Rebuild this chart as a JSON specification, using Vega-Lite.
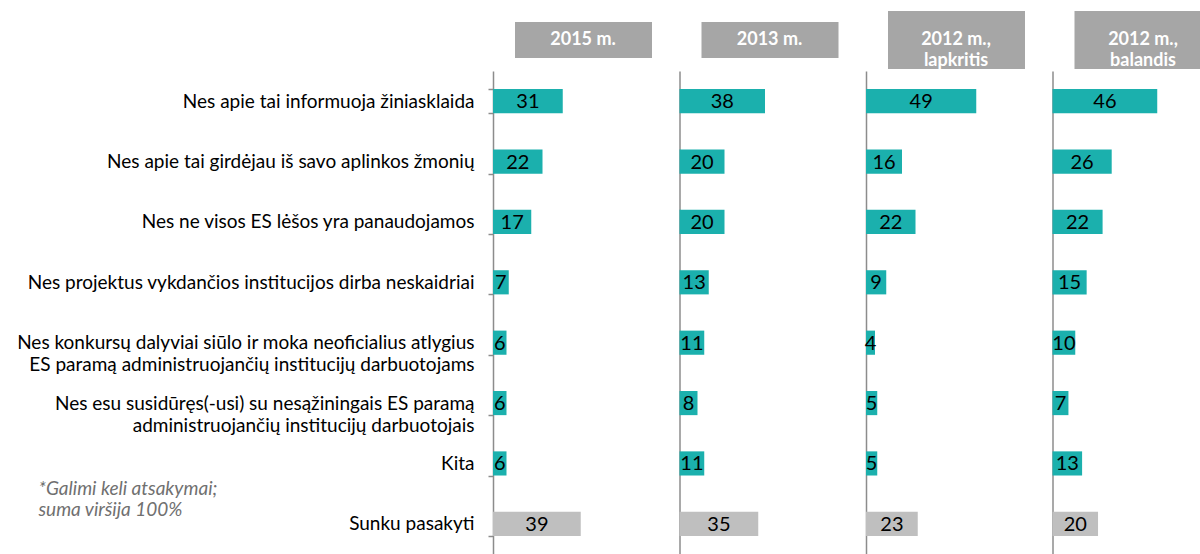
{
  "$schema": "https://vega.github.io/schema/vega-lite/v6.json",
  "padding": {"left": 16, "top": 11, "right": 0, "bottom": 0},
  "background": "white",
  "config": {"font": "Lato", "view": {"stroke": null}},
  "datasets": {
    "survey": [
      {"panel": "2015 m.", "item": "Nes apie tai informuoja žiniasklaida", "value": 31},
      {"panel": "2015 m.", "item": "Nes apie tai girdėjau iš savo aplinkos žmonių", "value": 22},
      {"panel": "2015 m.", "item": "Nes ne visos ES lėšos yra panaudojamos", "value": 17},
      {"panel": "2015 m.", "item": "Nes projektus vykdančios institucijos dirba neskaidriai", "value": 7},
      {"panel": "2015 m.", "item": "Nes konkursų dalyviai siūlo ir moka neoficialius atlygius\nES paramą administruojančių institucijų darbuotojams", "value": 6},
      {"panel": "2015 m.", "item": "Nes esu susidūręs(-usi) su nesąžiningais ES paramą\nadministruojančių institucijų darbuotojais", "value": 6},
      {"panel": "2015 m.", "item": "Kita", "value": 6},
      {"panel": "2015 m.", "item": "Sunku pasakyti", "value": 39},
      {"panel": "2013 m.", "item": "Nes apie tai informuoja žiniasklaida", "value": 38},
      {"panel": "2013 m.", "item": "Nes apie tai girdėjau iš savo aplinkos žmonių", "value": 20},
      {"panel": "2013 m.", "item": "Nes ne visos ES lėšos yra panaudojamos", "value": 20},
      {"panel": "2013 m.", "item": "Nes projektus vykdančios institucijos dirba neskaidriai", "value": 13},
      {"panel": "2013 m.", "item": "Nes konkursų dalyviai siūlo ir moka neoficialius atlygius\nES paramą administruojančių institucijų darbuotojams", "value": 11},
      {"panel": "2013 m.", "item": "Nes esu susidūręs(-usi) su nesąžiningais ES paramą\nadministruojančių institucijų darbuotojais", "value": 8},
      {"panel": "2013 m.", "item": "Kita", "value": 11},
      {"panel": "2013 m.", "item": "Sunku pasakyti", "value": 35},
      {"panel": "2012 m., lapkritis", "item": "Nes apie tai informuoja žiniasklaida", "value": 49},
      {"panel": "2012 m., lapkritis", "item": "Nes apie tai girdėjau iš savo aplinkos žmonių", "value": 16},
      {"panel": "2012 m., lapkritis", "item": "Nes ne visos ES lėšos yra panaudojamos", "value": 22},
      {"panel": "2012 m., lapkritis", "item": "Nes projektus vykdančios institucijos dirba neskaidriai", "value": 9},
      {"panel": "2012 m., lapkritis", "item": "Nes konkursų dalyviai siūlo ir moka neoficialius atlygius\nES paramą administruojančių institucijų darbuotojams", "value": 4},
      {"panel": "2012 m., lapkritis", "item": "Nes esu susidūręs(-usi) su nesąžiningais ES paramą\nadministruojančių institucijų darbuotojais", "value": 5},
      {"panel": "2012 m., lapkritis", "item": "Kita", "value": 5},
      {"panel": "2012 m., lapkritis", "item": "Sunku pasakyti", "value": 23},
      {"panel": "2012 m., balandis", "item": "Nes apie tai informuoja žiniasklaida", "value": 46},
      {"panel": "2012 m., balandis", "item": "Nes apie tai girdėjau iš savo aplinkos žmonių", "value": 26},
      {"panel": "2012 m., balandis", "item": "Nes ne visos ES lėšos yra panaudojamos", "value": 22},
      {"panel": "2012 m., balandis", "item": "Nes projektus vykdančios institucijos dirba neskaidriai", "value": 15},
      {"panel": "2012 m., balandis", "item": "Nes konkursų dalyviai siūlo ir moka neoficialius atlygius\nES paramą administruojančių institucijų darbuotojams", "value": 10},
      {"panel": "2012 m., balandis", "item": "Nes esu susidūręs(-usi) su nesąžiningais ES paramą\nadministruojančių institucijų darbuotojais", "value": 7},
      {"panel": "2012 m., balandis", "item": "Kita", "value": 13},
      {"panel": "2012 m., balandis", "item": "Sunku pasakyti", "value": 20}
    ]
  },
  "columns": 4,
  "spacing": {"row": 2, "column": 6.5},
  "bounds": "flush",
  "center": true,
  "concat": [
    {
      "width": 180, "height": 36,
      "data": {"values": [{"header": "2015 m."}]},
      "layer": [
        {"mark": {"type": "rect", "color": "#A6A6A6", "xOffset": 22, "x2Offset": -21}, "encoding": {"x": {"value": 0}, "x2": {"value": "width"}}},
        {"mark": {"type": "text", "color": "white", "fontWeight": "bold", "fontSize": 18, "lineBreak": "\n", "lineHeight": 21}, "encoding": {"text": {"field": "header"}}}
      ]
    },
    {
      "width": 180, "height": 36,
      "data": {"values": [{"header": "2013 m."}]},
      "layer": [
        {"mark": {"type": "rect", "color": "#A6A6A6", "xOffset": 22, "x2Offset": -21}, "encoding": {"x": {"value": 0}, "x2": {"value": "width"}}},
        {"mark": {"type": "text", "color": "white", "fontWeight": "bold", "fontSize": 18, "lineBreak": "\n", "lineHeight": 21}, "encoding": {"text": {"field": "header"}}}
      ]
    },
    {
      "width": 180, "height": 58,
      "data": {"values": [{"header": "2012 m.,\nlapkritis"}]},
      "layer": [
        {"mark": {"type": "rect", "color": "#A6A6A6", "xOffset": 22, "x2Offset": -21}, "encoding": {"x": {"value": 0}, "x2": {"value": "width"}}},
        {"mark": {"type": "text", "color": "white", "fontWeight": "bold", "fontSize": 18, "lineBreak": "\n", "lineHeight": 21}, "encoding": {"text": {"field": "header"}}}
      ]
    },
    {
      "width": 148, "height": 58,
      "data": {"values": [{"header": "2012 m.,\nbalandis"}]},
      "layer": [
        {"mark": {"type": "rect", "color": "#A6A6A6", "xOffset": 22, "x2Offset": 0}, "encoding": {"x": {"value": 0}, "x2": {"value": "width"}}},
        {"mark": {"type": "text", "color": "white", "fontWeight": "bold", "fontSize": 18, "lineBreak": "\n", "lineHeight": 21, "xOffset": 16.5}, "encoding": {"text": {"field": "header"}}}
      ]
    },
    {
      "width": 180, "height": 483,
      "data": {"name": "survey"},
      "transform": [{"filter": "datum.panel === '2015 m.'"}],
      "encoding": {
        "y": {
          "field": "item", "type": "nominal", "sort": null,
          "scale": {"paddingInner": 0.6, "paddingOuter": 0.3},
          "axis": {
            "title": ["*Galimi keli atsakymai;", "suma viršija 100%"],
            "titleAngle": 0, "titleX": -455, "titleY": 423, "titleAlign": "left", "titleBaseline": "alphabetic",
            "titleFontStyle": "italic", "titleFontWeight": "normal", "titleFontSize": 19, "titleColor": "#707070", "titleLineHeight": 21,
            "labelFontSize": 19, "labelColor": "#000000", "labelPadding": 14, "labelLimit": 700, "labelLineHeight": 22,
            "labelExpr": "datum.value ? split(datum.value, '\\n') : ''",
            "tickBand": "extent", "tickSize": 5, "tickColor": "#8C8C8C", "tickWidth": 1.5,
            "domainColor": "#8C8C8C", "domainWidth": 1.5
          }
        }
      },
      "layer": [
        {
          "mark": {"type": "bar"},
          "encoding": {
            "x": {"field": "value", "type": "quantitative", "scale": {"domain": [0, 76]}, "axis": null},
            "color": {"condition": {"test": "datum.item === 'Sunku pasakyti'", "value": "#BFBFBF"}, "value": "#1BB0AD"}
          }
        },
        {
          "mark": {"type": "text", "fontSize": 20, "color": "#000000", "dy": 1},
          "encoding": {
            "x": {"field": "value", "type": "quantitative", "stack": "zero", "bandPosition": 0.5},
            "text": {"field": "value", "type": "quantitative"}
          }
        }
      ]
    },
    {
      "width": 180, "height": 483,
      "data": {"name": "survey"},
      "transform": [{"filter": "datum.panel === '2013 m.'"}],
      "encoding": {
        "y": {
          "field": "item", "type": "nominal", "sort": null,
          "scale": {"paddingInner": 0.6, "paddingOuter": 0.3},
          "axis": {"title": null, "labels": false, "ticks": false, "domainColor": "#8C8C8C", "domainWidth": 1.5}
        }
      },
      "layer": [
        {
          "mark": {"type": "bar"},
          "encoding": {
            "x": {"field": "value", "type": "quantitative", "scale": {"domain": [0, 76]}, "axis": null},
            "color": {"condition": {"test": "datum.item === 'Sunku pasakyti'", "value": "#BFBFBF"}, "value": "#1BB0AD"}
          }
        },
        {
          "mark": {"type": "text", "fontSize": 20, "color": "#000000", "dy": 1},
          "encoding": {
            "x": {"field": "value", "type": "quantitative", "stack": "zero", "bandPosition": 0.5},
            "text": {"field": "value", "type": "quantitative"}
          }
        }
      ]
    },
    {
      "width": 180, "height": 483,
      "data": {"name": "survey"},
      "transform": [{"filter": "datum.panel === '2012 m., lapkritis'"}],
      "encoding": {
        "y": {
          "field": "item", "type": "nominal", "sort": null,
          "scale": {"paddingInner": 0.6, "paddingOuter": 0.3},
          "axis": {"title": null, "labels": false, "ticks": false, "domainColor": "#8C8C8C", "domainWidth": 1.5}
        }
      },
      "layer": [
        {
          "mark": {"type": "bar"},
          "encoding": {
            "x": {"field": "value", "type": "quantitative", "scale": {"domain": [0, 76]}, "axis": null},
            "color": {"condition": {"test": "datum.item === 'Sunku pasakyti'", "value": "#BFBFBF"}, "value": "#1BB0AD"}
          }
        },
        {
          "mark": {"type": "text", "fontSize": 20, "color": "#000000", "dy": 1},
          "encoding": {
            "x": {"field": "value", "type": "quantitative", "stack": "zero", "bandPosition": 0.5},
            "text": {"field": "value", "type": "quantitative"}
          }
        }
      ]
    },
    {
      "width": 148, "height": 483,
      "data": {"name": "survey"},
      "transform": [{"filter": "datum.panel === '2012 m., balandis'"}],
      "encoding": {
        "y": {
          "field": "item", "type": "nominal", "sort": null,
          "scale": {"paddingInner": 0.6, "paddingOuter": 0.3},
          "axis": {"title": null, "labels": false, "ticks": false, "domainColor": "#8C8C8C", "domainWidth": 1.5}
        }
      },
      "layer": [
        {
          "mark": {"type": "bar"},
          "encoding": {
            "x": {"field": "value", "type": "quantitative", "scale": {"domain": [0, 63]}, "axis": null},
            "color": {"condition": {"test": "datum.item === 'Sunku pasakyti'", "value": "#BFBFBF"}, "value": "#1BB0AD"}
          }
        },
        {
          "mark": {"type": "text", "fontSize": 20, "color": "#000000", "dy": 1},
          "encoding": {
            "x": {"field": "value", "type": "quantitative", "stack": "zero", "bandPosition": 0.5},
            "text": {"field": "value", "type": "quantitative"}
          }
        }
      ]
    }
  ]
}
